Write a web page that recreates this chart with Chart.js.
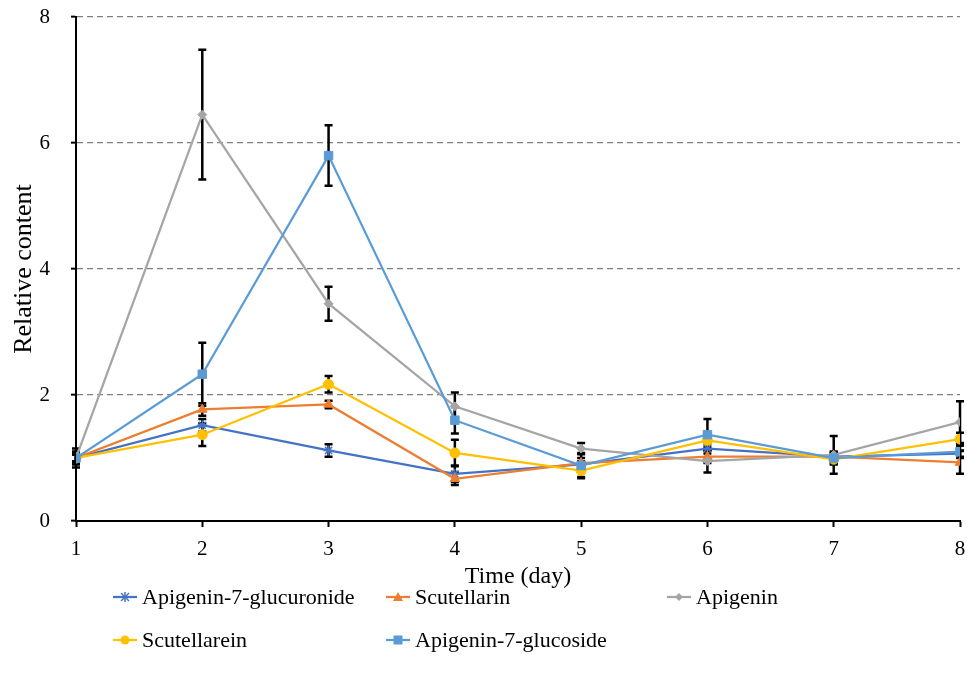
<!DOCTYPE html>
<html>
<head>
<meta charset="utf-8">
<script src="https://cdn.jsdelivr.net/npm/chart.js@4/dist/chart.umd.min.js"></script>
<style>
  html, body { margin: 0; padding: 0; background: #fff; }
  #wrap { position: relative; width: 967px; height: 682px; }
  #legend { position: absolute; left: 0; top: 0; width: 967px; height: 682px; pointer-events: none;
    font-family: "Liberation Serif", "Times New Roman", serif; font-size: 22px; color: #000; }
  .item { position: absolute; display: flex; align-items: center; height: 28px; white-space: nowrap; }
  .item svg { margin-right: 5px; }
</style>
</head>
<body>
<div id="wrap">
  <canvas id="c" width="967" height="682"></canvas>
  <div id="legend"></div>
</div>
<script>
// ---- data ----
const days = [1, 2, 3, 4, 5, 6, 7, 8];
const seriesNames = ["Apigenin-7-glucuronide", "Scutellarin", "Apigenin", "Scutellarein", "Apigenin-7-glucoside"];
const apigenin7Glucuronide = [1.00, 1.52, 1.12, 0.75, 0.90, 1.15, 1.02, 1.07];
const scutellarin          = [1.00, 1.77, 1.85, 0.67, 0.92, 1.02, 1.02, 0.93];
const apigenin             = [1.00, 6.45, 3.45, 1.82, 1.15, 0.95, 1.05, 1.57];
const scutellarein         = [1.00, 1.37, 2.17, 1.08, 0.80, 1.28, 0.98, 1.30];
const apigenin7Glucoside   = [1.00, 2.33, 5.80, 1.60, 0.88, 1.37, 1.00, 1.10];
const errGlucuronide  = [0.10, 0.10, 0.10, 0.13, 0.05, 0.08, 0.05, 0.05];
const errScutellarin  = [0.10, 0.10, 0.06, 0.10, 0.08, 0.10, 0.08, 0.18];
const errApigenin     = [0.15, 1.03, 0.27, 0.22, 0.09, 0.18, 0.30, 0.33];
const errScutellarein = [0.05, 0.18, 0.13, 0.21, 0.10, 0.10, 0.08, 0.10];
const errGlucoside    = [0.08, 0.50, 0.48, 0.21, 0.20, 0.25, 0.10, 0.10];
const yTicks = [0, 2, 4, 6, 8];
const xTicks = [1, 2, 3, 4, 5, 6, 7, 8];

const values = [apigenin7Glucuronide, scutellarin, apigenin, scutellarein, apigenin7Glucoside];
const errors = [errGlucuronide, errScutellarin, errApigenin, errScutellarein, errGlucoside];
const colors = ["#4472C4", "#ED7D31", "#A5A5A5", "#FFC000", "#5B9BD5"];
const styles = ["star", "triangle", "rectRot", "circle", "rect"];
const radii  = [5, 5.5, 4.5, 5, 6];

const FONT = '"Liberation Serif", "Times New Roman", serif';
Chart.defaults.font.family = FONT;
Chart.defaults.color = '#000';

const datasets = values.map((v, i) => ({
  label: seriesNames[i],
  data: days.map((d, j) => ({ x: d, y: v[j] })),
  errors: errors[i],
  borderColor: colors[i],
  backgroundColor: colors[i],
  pointBackgroundColor: colors[i],
  pointBorderColor: colors[i],
  pointStyle: styles[i],
  pointRadius: radii[i],
  pointBorderWidth: i === 0 ? 1.5 : 1,
  borderWidth: 2.25,
  tension: 0,
  order: 4 - i
}));

const errorBars = {
  id: 'errorBars',
  beforeDatasetsDraw(chart) {
    const ctx = chart.ctx;
    const xs = chart.scales.x, ys = chart.scales.y;
    ctx.save();
    ctx.strokeStyle = '#000';
    ctx.lineWidth = 2.5;
    chart.data.datasets.forEach(ds => {
      ds.data.forEach((p, j) => {
        const e = ds.errors[j];
        const px = xs.getPixelForValue(p.x);
        const top = ys.getPixelForValue(p.y + e);
        const bot = ys.getPixelForValue(p.y - e);
        ctx.beginPath();
        ctx.moveTo(px, top); ctx.lineTo(px, bot);
        ctx.moveTo(px - 4, top); ctx.lineTo(px + 4, top);
        ctx.moveTo(px - 4, bot); ctx.lineTo(px + 4, bot);
        ctx.stroke();
      });
    });
    ctx.restore();
  }
};

new Chart(document.getElementById('c'), {
  type: 'line',
  data: { datasets },
  plugins: [errorBars],
  options: {
    responsive: false,
    animation: false,
    devicePixelRatio: 1,
    layout: { padding: { top: 17, right: 3, bottom: 91, left: 0 } },
    plugins: { legend: { display: false }, tooltip: { enabled: false } },
    scales: {
      x: {
        type: 'linear', min: 1, max: 8,
        afterBuildTicks: s => { s.ticks = xTicks.map(v => ({ value: v })); },
        afterFit: s => { s.height = 70; s.paddingLeft = 0; s.paddingRight = 0; },
        ticks: { font: { size: 21 }, padding: 10, color: '#000', maxRotation: 0 },
        grid: { drawOnChartArea: false, drawTicks: true, tickLength: 6, tickColor: '#000', tickWidth: 2 },
        border: { display: true, color: '#000', width: 2 },
        title: { display: true, text: 'Time (day)', font: { size: 24 }, color: '#000', padding: { top: 0, bottom: 0 } }
      },
      y: {
        type: 'linear', min: 0, max: 8,
        afterBuildTicks: s => { s.ticks = yTicks.map(v => ({ value: v })); },
        afterFit: s => { s.width = 76; s.paddingTop = 0; s.paddingBottom = 0; },
        ticks: { font: { size: 21 }, padding: 21, color: '#000' },
        grid: {
          drawTicks: true, tickLength: 5, tickWidth: 2, tickColor: '#000',
          lineWidth: 1.3,
          color: c => (c.tick && c.tick.value === 0) ? 'rgba(0,0,0,0)' : '#7F7F7F'
        },
        border: { display: true, color: '#000', width: 2, dash: [6, 4] },
        title: { display: true, text: 'Relative content', font: { size: 26 }, color: '#000', padding: { top: 9, bottom: 0 } }
      }
    }
  }
});

// ---- legend (HTML, built from the same series arrays) ----
function markerSvg(i) {
  const c = colors[i], cx = 12, cy = 7;
  let m = '';
  switch (styles[i]) {
    case 'star':
      m = `<g stroke="${c}" stroke-width="1.5"><line x1="${cx-4}" y1="${cy-4}" x2="${cx+4}" y2="${cy+4}"/><line x1="${cx-4}" y1="${cy+4}" x2="${cx+4}" y2="${cy-4}"/><line x1="${cx}" y1="${cy-5}" x2="${cx}" y2="${cy+5}"/></g>`; break;
    case 'triangle':
      m = `<polygon fill="${c}" points="${cx},${cy-5} ${cx+5},${cy+4} ${cx-5},${cy+4}"/>`; break;
    case 'rectRot':
      m = `<polygon fill="${c}" points="${cx},${cy-4} ${cx+4},${cy} ${cx},${cy+4} ${cx-4},${cy}"/>`; break;
    case 'circle':
      m = `<circle fill="${c}" cx="${cx}" cy="${cy}" r="4.5"/>`; break;
    case 'rect':
      m = `<rect fill="${c}" x="${cx-4.5}" y="${cy-4.5}" width="9" height="9"/>`; break;
  }
  return `<svg width="24" height="14" viewBox="0 0 24 14"><line x1="0" y1="${cy}" x2="24" y2="${cy}" stroke="${c}" stroke-width="2.25"/>${m}</svg>`;
}
const legendPos = [[113, 597], [386, 597], [667, 597], [113, 640], [386, 640]];
const leg = document.getElementById('legend');
seriesNames.forEach((name, i) => {
  const d = document.createElement('div');
  d.className = 'item';
  d.style.left = legendPos[i][0] + 'px';
  d.style.top = (legendPos[i][1] - 14) + 'px';
  d.innerHTML = markerSvg(i) + '<span>' + name + '</span>';
  leg.appendChild(d);
});
</script>
</body>
</html>
